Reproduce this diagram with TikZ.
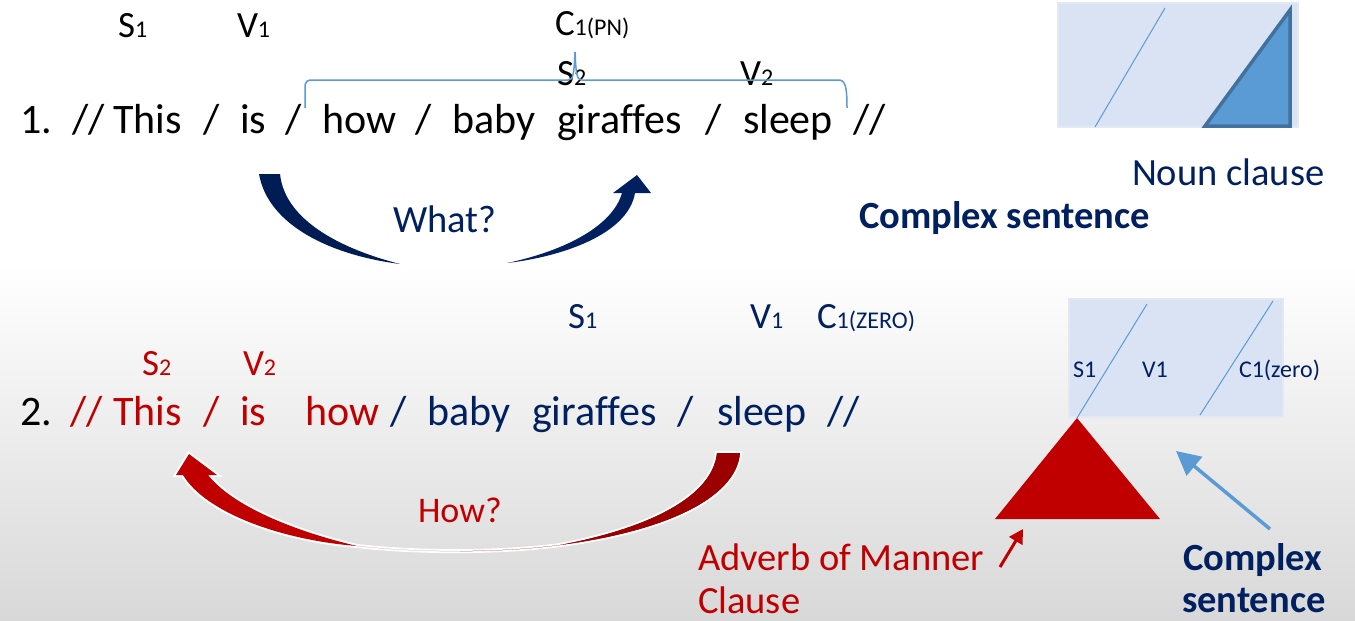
\documentclass[tikz,border=0pt]{standalone}
\usepackage{fontspec}
\setmainfont{Carlito}[Ligatures=NoCommon]
\usetikzlibrary{arrows.meta}
\definecolor{navy}{HTML}{002060}
\definecolor{navyL}{HTML}{001C54}
\definecolor{myred}{HTML}{C00000}
\definecolor{darkred}{HTML}{9A0000}
\definecolor{myblue}{HTML}{5B9BD5}
\definecolor{bluedark}{HTML}{41719C}
\definecolor{boxfill}{HTML}{DAE3F3}
\definecolor{boxedge}{HTML}{E2E9F5}
\definecolor{bggray}{HTML}{D8D8D8}
\newcommand\sbs[1]{{\fontsize{24}{24}\selectfont #1}}
\def\redpath{(740,453) .. controls (736,500) and (660,532) .. (560,545) .. controls (500,553) and (420,553) .. (357,546) .. controls (280,540) and (205,512) .. (183,475) -- (176,475) -- (189,454) -- (217,475) -- (208,475) .. controls (232,505) and (290,530) .. (357,546) .. controls (420,553) and (500,553) .. (560,545) .. controls (640,530) and (712,500) .. (717,453) -- cycle}
\begin{document}
\begin{tikzpicture}[x=1pt,y=-1pt,
  txt/.style={inner sep=0pt, outer sep=0pt, anchor=base west},
  wd/.style={txt, font=\fontsize{42}{50}\selectfont},
  lb/.style={txt, font=\fontsize{37}{40}\selectfont},
  sm/.style={txt, font=\fontsize{24}{28}\selectfont, text=navy},
  captxt/.style={txt, font=\fontsize{38.5}{43}\selectfont},
  boldtxt/.style={txt, font=\fontsize{38.5}{42}\selectfont\bfseries, text=navy},
  bracket/.style={draw=myblue, line width=1.5pt},
  clbox/.style={fill=boxfill, draw=boxedge, line width=2pt},
  slashline/.style={draw=myblue, line width=1pt}]
% background
\useasboundingbox (0,0) rectangle (1355,621);
\fill[white] (0,0) rectangle (1355,621);
\shade[top color=white, bottom color=bggray] (0,265) rectangle (1355,621);

% ---------- sentence 1 ----------
\node[wd] (a0) at (20,133) {1.};
\node[wd] (a1) at (72,133) {//};
\node[wd] (a2) at (113,133) {This};
\node[wd] (a3) at (203,133) {/};
\node[wd] (a4) at (240,133) {is};
\node[wd] (a5) at (285,133) {/};
\node[wd] (a6) at (322,133) {how};
\node[wd] (a7) at (415,133) {/};
\node[wd] (a8) at (452,133) {baby};
\node[wd] (a9) at (557,133) {giraffes};
\node[wd] (a10) at (705,133) {/};
\node[wd] (a11) at (743,133) {sleep};
\node[wd] (a12) at (853,133) {//};

\node[lb] (l1s) at (118,37) {S\sbs{1}};
\node[lb] (l1v) at (237,37) {V\sbs{1}};
\node[lb] (l1c) at (555,35) {C\sbs{1(PN)}};
\node[lb] (l2s) at (557,85) {S\sbs{2}};
\node[lb] (l2v) at (740,85) {V\sbs{2}};

% bracket
\draw[bracket] (305,108) -- (305,88) .. controls (305,81) and (307,80) .. (313,80) -- (568,80) .. controls (573,80) and (574,75) .. (575,52) .. controls (576,75) and (577,80) .. (582,80) -- (838,80) .. controls (845,80) and (847,85) .. (847,108);

% navy curved arrow
\fill[navyL] (259,174) .. controls (268,225) and (330,255) .. (400,264) .. controls (345,250) and (285,222) .. (280,174) -- cycle;
\fill[navy] (507,263) .. controls (560,257) and (628,235) .. (635,193) -- (651,193) -- (637,175) -- (613,193) -- (622,193) .. controls (612,228) and (560,252) .. (507,263) -- cycle;
\node[captxt, text=navy] (what) at (393,232) {What?};

% top right box
\path[clbox] (1058,3) rectangle (1298,127);
\draw[slashline] (1165,8) -- (1095,127);
\draw[fill=myblue, draw=bluedark, line width=3.5pt, line join=miter] (1290,10) -- (1290,126) -- (1205,126) -- cycle;
\node[captxt, text=navy] (noun) at (1132,185) {Noun clause};
\node[boldtxt] (cs1) at (859,228) {Complex sentence};

% ---------- sentence 2 ----------
\node[wd] (b0) at (20,425) {2.};
\node[wd, text=myred] (b1) at (70,425) {//};
\node[wd, text=myred] (b2) at (113,425) {This};
\node[wd, text=myred] (b3) at (203,425) {/};
\node[wd, text=myred] (b4) at (240,425) {is};
\node[wd, text=myred] (b5) at (305,425) {how};
\node[wd, text=navy] (b6) at (390,425) {/};
\node[wd, text=navy] (b7) at (427,425) {baby};
\node[wd, text=navy] (b8) at (532,425) {giraffes};
\node[wd, text=navy] (b9) at (677,425) {/};
\node[wd, text=navy] (b10) at (717,425) {sleep};
\node[wd, text=navy] (b11) at (827,425) {//};

\node[lb, text=myred] (m2s) at (142,375) {S\sbs{2}};
\node[lb, text=myred] (m2v) at (243,375) {V\sbs{2}};
\node[lb, text=navy] (m1s) at (568,328) {S\sbs{1}};
\node[lb, text=navy] (m1v) at (750,328) {V\sbs{1}};
\node[lb, text=navy] (m1c) at (817,328) {C\sbs{1(ZERO)}};

% red curved arrow
\path[preaction={draw=white, line width=4pt, line join=miter}, fill=myred] \redpath;
\begin{scope}
\clip (460,400) rectangle (760,600);
\fill[darkred] \redpath;
\end{scope}
\node[txt, font=\fontsize{36}{40}\selectfont, text=myred] (how) at (418,522) {How?};

% bottom right box
\path[clbox] (1069,299) rectangle (1283,417);
\draw[slashline] (1147,304) -- (1077,418);
\draw[slashline] (1273,301) -- (1200,415);
\node[sm] (bs1) at (1073,377) {S1};
\node[sm] (bv1) at (1142,377) {V1};
\node[sm] (bc1) at (1239,377) {C1(zero)};

\coordinate (apex) at (1077,418);
\fill[myred] (995,519) -- (apex) -- (1160,519) -- cycle;

\node[captxt, text=myred] (adv) at (698,570) {Adverb of Manner};
\node[captxt, text=myred] (cl) at (698,613) {Clause};
\coordinate (redtip) at (1023,529);
\draw[myred, line width=3pt, -{Triangle[length=14pt,width=15pt]}] (1000,567) -- (redtip);

\node[boldtxt] (cx) at (1183,570) {Complex};
\node[boldtxt] (st) at (1182,612) {sentence};
\coordinate (btip) at (1176,451);
\draw[myblue, line width=3.5pt, -{Triangle[length=24pt,width=24pt]}] (1270,529) -- (btip);
\end{tikzpicture}
\end{document}
